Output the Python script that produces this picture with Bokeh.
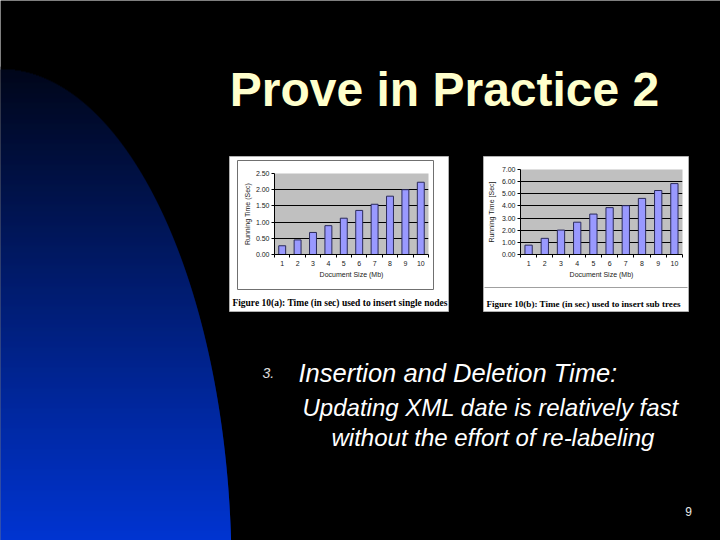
import numpy as np
from bokeh.plotting import figure
from bokeh.layouts import column
from bokeh.models import Range1d, FixedTicker, NumeralTickFormatter
from bokeh.core.properties import value
from bokeh.embed import file_html
from bokeh.resources import INLINE

# ---------------- data ----------------
title_text = "Prove in Practice 2"
doc_sizes = [1, 2, 3, 4, 5, 6, 7, 8, 9, 10]
single_nodes_time = [0.27, 0.45, 0.68, 0.89, 1.12, 1.36, 1.55, 1.80, 2.00, 2.23]
sub_trees_time = [0.77, 1.33, 2.01, 2.66, 3.33, 3.86, 4.02, 4.62, 5.27, 5.84]
yticks_a = [0.0, 0.5, 1.0, 1.5, 2.0, 2.5]
yticks_b = [0.0, 1.0, 2.0, 3.0, 4.0, 5.0, 6.0, 7.0]
ylabel_a = "Running Time (Sec)"
ylabel_b = "Running Time [Sec]"
xlabel = "Document Size (Mb)"
caption_a = "Figure 10(a): Time (in sec) used to insert single nodes"
caption_b = "Figure 10(b): Time (in sec) used to insert sub trees"
bullet_num = "3."
bullet_head = "Insertion and Deletion Time:"
body_lines = ["Updating XML date is relatively fast", "without the effort of re-labeling"]
page_no = "9"

W, H = 720, 540
SANS = value("Liberation Sans")
SERIF = value("Liberation Serif")

# ---------------- slide background ----------------
bg = figure(width=W, height=H, x_range=Range1d(0, W), y_range=Range1d(H, 0),
            min_border=0, toolbar_location=None, output_backend="svg",
            x_axis_location=None, y_axis_location=None,
            background_fill_color="black", border_fill_color="black",
            outline_line_color=None)
bg.grid.visible = False
bg.frame_align = False

# blue gradient quarter-ellipse on the left
ys = np.arange(66.0, 541.0, 1.0)
ea, eb, ecy = 231.0, 502.0, 570.0
xe = ea * np.sqrt(np.clip(1 - ((ecy - ys) / eb) ** 2, 0, None))
tt = np.clip(ys / 540.0, 0, 1)
cols = ["#%02x%02x%02x" % (0, int(53 * t), int(210 * t)) for t in tt]
bg.quad(left=-2, right=xe, top=ys, bottom=ys + 1.4, fill_color=cols, line_color=None)

# title
bg.text(x=[444], y=[88.5], text=[title_text], text_align="center", text_baseline="middle",
        text_font=SANS, text_font_style="bold", text_font_size="48px", text_color="#ffffcc")

# white picture boxes
bg.quad(left=[229, 483], right=[448, 688], top=[156, 156], bottom=[311, 311],
        fill_color="white", line_color="#b0b0b0", line_width=1)
# inner chart border for (a)
bg.quad(left=[237], right=[433], top=[160], bottom=[289], fill_color=None,
        line_color="#707070", line_width=1)
# separator for (b)
bg.segment(x0=[484], x1=[687], y0=[287], y1=[287], line_color="#a0a0a0", line_width=1)

# captions
bg.text(x=[339.5], y=[302], text=[caption_a], text_align="center",
        text_baseline="middle", text_font=SERIF, text_font_style="bold",
        text_font_size="9.5px", text_color="black")
bg.text(x=[583], y=[303], text=[caption_b], text_align="center",
        text_baseline="middle", text_font=SERIF, text_font_style="bold",
        text_font_size="9.1px", text_color="black")

# bullet text
bg.text(x=[262], y=[372], text=[bullet_num], text_baseline="middle", text_font=SANS,
        text_font_style="italic", text_font_size="14px", text_color="#e0e0e0")
bg.text(x=[298], y=[372], text=[bullet_head], text_baseline="middle", text_font=SANS,
        text_font_style="italic", text_font_size="25.5px", text_color="white")
bg.text(x=[302, 331], y=[406.5, 437], text=body_lines, text_baseline="middle", text_font=SANS,
        text_font_style="italic", text_font_size="24px", text_color="white")
bg.text(x=[688], y=[511], text=[page_no], text_align="center", text_baseline="middle",
        text_font=SANS, text_font_size="12px", text_color="#e8e8e8")


# ---------------- the two bar charts ----------------
def make_chart(vals, yticks, ylabel, w, h, ml, mr, mt, mb, lab_standoff, left, top):
    p = figure(width=w, height=h, x_range=Range1d(0.5, 10.5),
               y_range=Range1d(yticks[0], yticks[-1]),
               toolbar_location=None, output_backend="svg",
               min_border_left=ml, min_border_right=mr, min_border_top=mt, min_border_bottom=mb,
               background_fill_color="#c0c0c0", border_fill_alpha=0, outline_line_color=None,
               styles={"position": "absolute", "left": f"{left}px", "top": f"{top}px"})
    p.frame_align = False
    p.vbar(x=doc_sizes, top=vals, width=0.45, fill_color="#9999ff",
           line_color="#2a2a5a", line_width=1)
    p.xgrid.visible = False
    p.ygrid.grid_line_color = "black"
    p.ygrid.grid_line_width = 1

    xa = p.xaxis[0]
    xa.ticker = FixedTicker(ticks=doc_sizes, minor_ticks=[s + 0.5 for s in [0] + doc_sizes])
    xa.major_tick_out = 0
    xa.major_tick_in = 0
    xa.minor_tick_out = 3
    xa.minor_tick_in = 0
    xa.major_label_standoff = 3
    xa.axis_label = xlabel
    xa.axis_label_standoff = 2

    ya = p.yaxis[0]
    ya.ticker = FixedTicker(ticks=yticks)
    ya.formatter = NumeralTickFormatter(format="0.00")
    ya.major_tick_out = 3
    ya.major_tick_in = 0
    ya.minor_tick_out = 0
    ya.minor_tick_in = 0
    ya.major_label_standoff = 2
    ya.axis_label = ylabel
    ya.axis_label_standoff = lab_standoff

    for ax in (xa, ya):
        ax.axis_line_color = "black"
        ax.major_tick_line_color = "black"
        ax.minor_tick_line_color = "black"
        ax.major_label_text_font = "Liberation Sans"
        ax.major_label_text_font_size = "7px"
        ax.major_label_text_color = "#202020"
        ax.axis_label_text_font = "Liberation Sans"
        ax.axis_label_text_font_size = "7px"
        ax.axis_label_text_font_style = "normal"
        ax.axis_label_text_color = "#202020"
    return p


fa = make_chart(single_nodes_time, yticks_a, ylabel_a, 196, 129, 37, 5, 13, 35, 2, 237, 160)
fb = make_chart(sub_trees_time, yticks_b, ylabel_b, 203, 130, 34, 5, 12, 33, 4, 484, 157)

p = column(bg, fa, fb, styles={"position": "relative"})

open("out.html", "w").write(file_html(p, INLINE))
